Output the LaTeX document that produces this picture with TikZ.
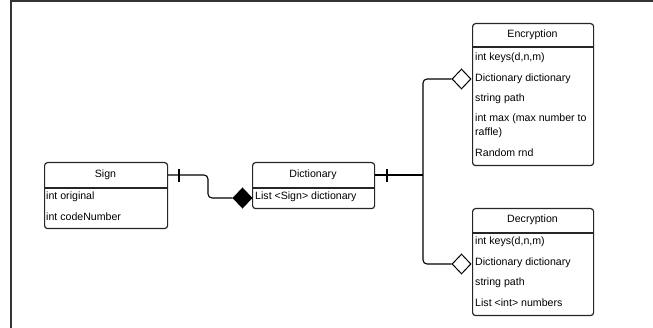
\documentclass[tikz,border=0pt]{standalone}
\usepackage{fontspec}
\setmainfont{Liberation Sans}
\usetikzlibrary{shapes.geometric}
\begin{document}
\begin{tikzpicture}[x=1pt,y=-1pt,
  box/.style={draw=black!85,line width=1.2pt,rounded corners=3pt,anchor=north west,inner sep=0pt},
  head/.style={font=\fontsize{10.6}{12}\selectfont,inner sep=0pt},
  row/.style={font=\fontsize{10.6}{14}\selectfont,inner sep=0pt,anchor=west,align=left},
  conn/.style={draw=black,line width=1.1pt,rounded corners=4pt},
  tick/.style={draw=black,line width=1.1pt},
  fdia/.style={diamond,draw=black,line width=1pt,fill=black,minimum width=19pt,minimum height=20pt,inner sep=0pt},
  odia/.style={diamond,draw=black,line width=1pt,fill=white,minimum width=19pt,minimum height=20pt,inner sep=0pt},
  frame/.style={draw=black!80,line width=1.5pt}]
\useasboundingbox (0,0) rectangle (653,328);
\coordinate (f1) at (11,328);
\coordinate (f2) at (11,1);
\coordinate (f3) at (653,1);
\draw[frame] (f1) -- (f2) -- (f3);

% Sign
\node[box,minimum width=123pt,minimum height=66pt] (sign) at (44,162) {};
\node[head] (signh) at (105.5,175) {Sign};
\draw[draw=black!85,line width=1.2pt] (sign.west |- 0,188) -- (sign.east |- 0,188);
\node[row] (signr1) at (46,197) {int original};
\node[row] (signr2) at (46,217) {int codeNumber};

% Dictionary
\node[box,minimum width=122pt,minimum height=46pt] (dict) at (252,162) {};
\node[head] (dicth) at (313,175) {Dictionary};
\draw[draw=black!85,line width=1.2pt] (dict.west |- 0,188) -- (dict.east |- 0,188);
\node[row] (dictr1) at (255,197) {List <Sign> dictionary};

% Encryption
\node[box,minimum width=121pt,minimum height=142pt] (enc) at (472,23) {};
\node[head] (ench) at (532.5,34.5) {Encryption};
\draw[draw=black!85,line width=1.2pt] (enc.west |- 0,47) -- (enc.east |- 0,47);
\node[row] (encr1) at (475,58) {int keys(d,n,m)};
\node[row] (encr2) at (475,78.5) {Dictionary dictionary};
\node[row] (encr3) at (475,99) {string path};
\node[row] (encr4) at (475,126) {int max (max number to\\raffle)};
\node[row] (encr5) at (475,153) {Random rnd};

% Decryption
\node[box,minimum width=121pt,minimum height=107pt] (dec) at (472,208) {};
\node[head] (dech) at (532.5,220) {Decryption};
\draw[draw=black!85,line width=1.2pt] (dec.west |- 0,233) -- (dec.east |- 0,233);
\node[row] (decr1) at (475,242) {int keys(d,n,m)};
\node[row] (decr2) at (475,263) {Dictionary dictionary};
\node[row] (decr3) at (475,283) {string path};
\node[row] (decr4) at (475,303) {List <int> numbers};

% diamonds
\node[fdia] (d1) at (242.5,198) {};
\node[odia] (d2) at (461.5,79) {};
\node[odia] (d3) at (461.5,264) {};

% connectors
\coordinate (sb) at (208,198);
\draw[conn] (signh -| sign.east) -| (sb) -- (d1.west);
\coordinate (t1a) at (179,169);
\coordinate (t1b) at (179,182);
\draw[tick] (t1a) -- (t1b);

\coordinate (j) at (423,175);
\draw[conn] (dicth -| dict.east) -- (j);
\draw[conn] (d2.west) -| (j) |- (d3.west);
\coordinate (t2a) at (387,169);
\coordinate (t2b) at (387,182);
\draw[tick] (t2a) -- (t2b);
\end{tikzpicture}
\end{document}
